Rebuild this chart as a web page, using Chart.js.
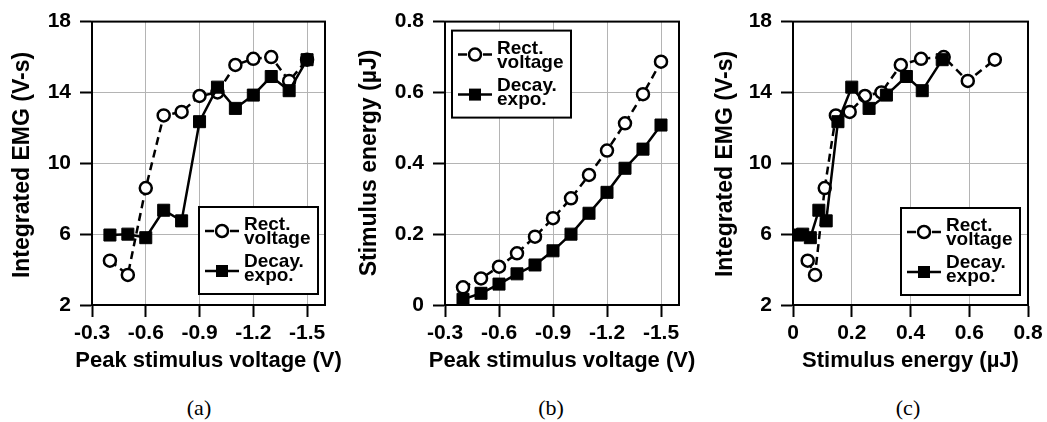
<!DOCTYPE html>
<html>
<head>
<meta charset="utf-8">
<script src="https://cdn.jsdelivr.net/npm/chart.js@4.4.1/dist/chart.umd.min.js"></script>
<style>
  body { margin: 0; background: #fff; width: 1047px; height: 422px; overflow: hidden; position: relative; }
  canvas { position: absolute; top: 0; }
  .cap { position: absolute; top: 395px; line-height: 26px; font: 22px "Liberation Serif", "Times New Roman", serif; color: #000; transform: translateX(-50%); }
</style>
</head>
<body>
<canvas id="chartA" width="345" height="385" style="left:0"></canvas>
<canvas id="chartB" width="352" height="385" style="left:345px"></canvas>
<canvas id="chartC" width="350" height="385" style="left:697px"></canvas>
<div class="cap" style="left:199px">(a)</div>
<div class="cap" style="left:551px">(b)</div>
<div class="cap" style="left:908px">(c)</div>
<script>
// peak stimulus voltage of each trial (V)
const voltages = [-0.4, -0.5, -0.6, -0.7, -0.8, -0.9, -1.0, -1.1, -1.2, -1.3, -1.4, -1.5];
// integrated EMG (V-s)
const emgRect = [4.5, 3.7, 8.6, 12.7, 12.9, 13.8, 14.0, 15.55, 15.9, 16.0, 14.65, 15.85];
const emgDecay = [5.95, 6.0, 5.8, 7.35, 6.75, 12.35, 14.3, 13.1, 13.85, 14.9, 14.1, 15.85];
// stimulus energy (uJ)
const energyRect = [0.050, 0.075, 0.108, 0.146, 0.193, 0.245, 0.301, 0.367, 0.436, 0.513, 0.595, 0.687];
const energyDecay = [0.016, 0.033, 0.059, 0.088, 0.113, 0.153, 0.200, 0.259, 0.318, 0.386, 0.440, 0.508];

const seriesNames = [['Rect.', 'voltage'], ['Decay.', 'expo.']];
const voltTicks = [-0.3, -0.6, -0.9, -1.2, -1.5];
const emgTicks = [2, 6, 10, 14, 18];
const energyTicks = [0, 0.2, 0.4, 0.6, 0.8];

const FONT = '"Liberation Sans", Arial, sans-serif';

function pairs(xs, ys) {
  return xs.map((x, i) => ({ x: x, y: ys[i] }));
}

function fmt(v) {
  return v === 0 ? '0' : v.toFixed(1);
}

// box around the plot area
const framePlugin = {
  id: 'frame',
  beforeDatasetsDraw(chart) {
    const a = chart.chartArea, ctx = chart.ctx;
    ctx.save();
    ctx.strokeStyle = '#000';
    ctx.lineWidth = 2;
    ctx.strokeRect(a.left, a.top, a.right - a.left, a.bottom - a.top);
    ctx.restore();
  }
};

// axis titles drawn without the width squeeze of scale titles
const axisTitles = {
  id: 'axisTitles',
  afterDraw(chart, args, opts) {
    const a = chart.chartArea, ctx = chart.ctx;
    ctx.save();
    ctx.fillStyle = '#000';
    ctx.textAlign = 'center';
    ctx.textBaseline = 'middle';
    ctx.font = 'bold 22px ' + FONT;
    ctx.fillText(opts.x, (a.left + a.right) / 2, opts.xY);
    ctx.font = 'bold 23px ' + FONT;
    ctx.translate(opts.yX, opts.yY);
    ctx.rotate(-Math.PI / 2);
    ctx.fillText(opts.y, 0, 0);
    ctx.restore();
  }
};

// boxed legend inside the plot, two-line labels
const boxLegend = {
  id: 'boxLegend',
  afterDraw(chart, args, opts) {
    const a = chart.chartArea, ctx = chart.ctx;
    const w = 119, h = 87;
    const left = opts.corner === 'tl' ? a.left + opts.dx : a.right - opts.dx - w;
    const top = opts.corner === 'tl' ? a.top + opts.dy : a.bottom - opts.dy - h;
    ctx.save();
    ctx.fillStyle = '#fff';
    ctx.fillRect(left, top, w, h);
    ctx.strokeStyle = '#000';
    ctx.lineWidth = 2;
    ctx.strokeRect(left, top, w, h);

    const sx = left + 6, mx = left + 23, ex = left + 40;
    // rect voltage sample
    let y = top + 24;
    ctx.lineWidth = 2.5;
    ctx.beginPath();
    ctx.moveTo(sx, y); ctx.lineTo(sx + 9, y);
    ctx.moveTo(ex - 9, y); ctx.lineTo(ex, y);
    ctx.stroke();
    ctx.beginPath();
    ctx.arc(mx, y, 6, 0, Math.PI * 2);
    ctx.fillStyle = '#fff';
    ctx.fill();
    ctx.stroke();
    // decaying exponential sample
    y = top + 64;
    ctx.beginPath();
    ctx.moveTo(sx, y); ctx.lineTo(ex, y);
    ctx.stroke();
    ctx.fillStyle = '#000';
    ctx.fillRect(mx - 6, y - 6, 12, 12);

    ctx.font = 'bold 19px ' + FONT;
    ctx.textBaseline = 'alphabetic';
    ctx.textAlign = 'left';
    const tx = left + 45;
    ctx.fillText(seriesNames[0][0], tx, top + 23);
    ctx.fillText(seriesNames[0][1], tx, top + 37);
    ctx.fillText(seriesNames[1][0], tx, top + 60);
    ctx.fillText(seriesNames[1][1], tx, top + 74);
    ctx.restore();
  }
};

function makeChart(id, p) {
  const ctx = document.getElementById(id).getContext('2d');
  return new Chart(ctx, {
    type: 'line',
    data: {
      datasets: [{
        label: seriesNames[0].join(' '),
        data: p.rect,
        order: 1,
        borderColor: '#000',
        borderWidth: 2.5,
        borderDash: [8, 5],
        pointStyle: 'circle',
        pointRadius: 6,
        pointBorderWidth: 2.5,
        pointBackgroundColor: '#fff',
        pointBorderColor: '#000',
        tension: 0,
        fill: false
      }, {
        label: seriesNames[1].join(' '),
        data: p.decay,
        order: 0,
        borderColor: '#000',
        borderWidth: 2.5,
        pointStyle: 'rect',
        pointRadius: 8.5,
        pointBorderWidth: 1,
        pointBackgroundColor: '#000',
        pointBorderColor: '#000',
        tension: 0,
        fill: false
      }]
    },
    options: {
      responsive: false,
      animation: false,
      events: [],
      layout: { padding: { left: 0, right: p.padRight, top: 21, bottom: 0 } },
      plugins: {
        legend: { display: false },
        tooltip: { enabled: false },
        boxLegend: p.legend,
        axisTitles: p.titles
      },
      scales: {
        x: {
          type: 'linear',
          min: p.xMin, max: p.xMax, reverse: p.xReverse,
          afterBuildTicks: s => { s.ticks = p.xTicks.map(v => ({ value: v })); },
          afterFit: s => { s.height = 80; },
          grid: { color: '#b4b4b4', lineWidth: 1, tickColor: '#000', tickWidth: 2, tickLength: 12 },
          border: { color: '#000', width: 2 },
          ticks: { color: '#000', padding: 4, maxRotation: 0, font: { family: FONT, size: 21, weight: 'bold' }, callback: v => fmt(v) },
          title: { display: false }
        },
        y: {
          type: 'linear',
          min: p.yMin, max: p.yMax,
          afterBuildTicks: s => { s.ticks = p.yTicks.map(v => ({ value: v })); },
          afterFit: s => { s.width = p.yWidth; },
          grid: { color: '#b4b4b4', lineWidth: 1, tickColor: '#000', tickWidth: 2, tickLength: 12 },
          border: { color: '#000', width: 2 },
          ticks: { color: '#000', padding: 9, font: { family: FONT, size: 21, weight: 'bold' }, callback: v => (p.yTicks === energyTicks ? fmt(v) : String(v)) },
          title: { display: false }
        }
      }
    },
    plugins: [framePlugin, axisTitles, boxLegend]
  });
}

makeChart('chartA', {
  rect: pairs(voltages, emgRect), decay: pairs(voltages, emgDecay),
  xMin: -1.6, xMax: -0.3, xReverse: true, xTicks: voltTicks,
  yMin: 2, yMax: 18, yTicks: emgTicks,
  titles: { x: 'Peak stimulus voltage (V)', xY: 361, y: 'Integrated EMG (V-s)', yX: 23, yY: 165 },
  yWidth: 92, padRight: 20,
  legend: { corner: 'br', dx: 7, dy: 11 }
});

makeChart('chartB', {
  rect: pairs(voltages, energyRect), decay: pairs(voltages, energyDecay),
  xMin: -1.6, xMax: -0.3, xReverse: true, xTicks: voltTicks,
  yMin: 0, yMax: 0.8, yTicks: energyTicks,
  titles: { x: 'Peak stimulus voltage (V)', xY: 361, y: 'Stimulus energy (\u00b5J)', yX: 25, yY: 163 },
  yWidth: 100, padRight: 18,
  legend: { corner: 'tl', dx: 7, dy: 9 }
});

makeChart('chartC', {
  rect: pairs(energyRect, emgRect), decay: pairs(energyDecay, emgDecay),
  xMin: 0, xMax: 0.8, xReverse: false, xTicks: energyTicks,
  yMin: 2, yMax: 18, yTicks: emgTicks,
  titles: { x: 'Stimulus energy (\u00b5J)', xY: 361, y: 'Integrated EMG (V-s)', yX: 29, yY: 164 },
  yWidth: 96, padRight: 19,
  legend: { corner: 'br', dx: 8, dy: 10 }
});
</script>
</body>
</html>
